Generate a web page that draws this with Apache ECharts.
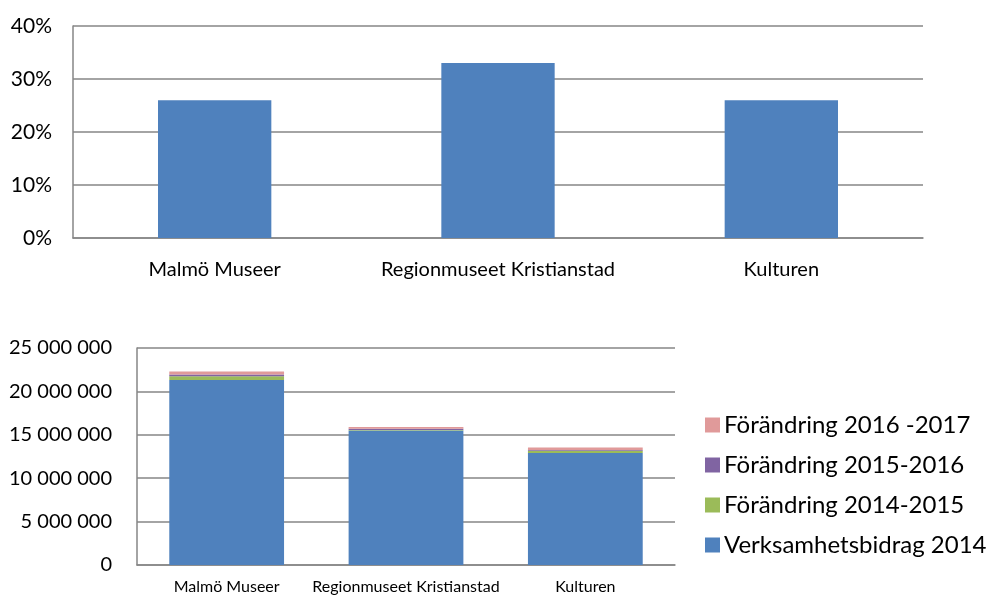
<!DOCTYPE html>
<html>
<head>
<meta charset="utf-8">
<script src="https://cdn.jsdelivr.net/npm/echarts@6/dist/echarts.min.js"></script>
<style>
html, body { margin: 0; padding: 0; background: #fff; }
#main { width: 995px; height: 598px; }
</style>
</head>
<body>
<div id="main"></div>
<script>
// data
var museer = ['Malmö Museer', 'Regionmuseet Kristianstad', 'Kulturen'];
var andel = [26, 33, 26];   // procent
var andelTicks = [0, 10, 20, 30, 40];

var serieNamn = ['Verksamhetsbidrag 2014', 'Förändring 2014-2015', 'Förändring 2015-2016', 'Förändring 2016 -2017'];
var bidrag2014 = [21300000, 15500000, 12900000];
var forandring1415 = [450000, 50000, 250000];
var forandring1516 = [200000, 150000, 100000];
var forandring1617 = [350000, 200000, 300000];
var serieFarg = ['#4f81bd', '#9bbb59', '#8064a2', '#e09a9a'];

var font = 'Lato, "Open Sans", sans-serif';
var gray = '#868686';

function mellanslag(v) {
	return String(v).replace(/\B(?=(\d{3})+(?!\d))/g, ' ');
}

var myChart = echarts.init(document.getElementById('main'));

var stackData = [bidrag2014, forandring1415, forandring1516, forandring1617];
var series = [
	{
		name: 'andel',
		type: 'bar',
		xAxisIndex: 0,
		yAxisIndex: 0,
		barWidth: '40%',
		itemStyle: { color: '#4f81bd' },
		data: andel
	}
];
for (var i = 0; i < serieNamn.length; i++) {
	series.push({
		name: serieNamn[i],
		type: 'bar',
		stack: 'total',
		xAxisIndex: 1,
		yAxisIndex: 1,
		barWidth: '64%',
		itemStyle: { color: serieFarg[i] },
		data: stackData[i]
	});
}

var option = {
	animation: false,
	backgroundColor: '#fff',
	textStyle: { fontFamily: font, color: '#000' },
	grid: [
		{ left: 73, top: 26, width: 850, height: 212 },
		{ left: 137, top: 348, width: 538, height: 217 }
	],
	legend: {
		orient: 'vertical',
		left: 700,
		top: 408,
		itemGap: 16,
		itemWidth: 15,
		itemHeight: 15,
		icon: 'rect',
		data: [serieNamn[3], serieNamn[2], serieNamn[1], serieNamn[0]],
		textStyle: { fontFamily: font, fontSize: 24, color: '#000', padding: [0, 0, 0, -1] }
	},
	xAxis: [
		{
			gridIndex: 0,
			type: 'category',
			data: museer,
			axisLine: { lineStyle: { color: gray, width: 1.5 } },
			axisTick: { show: false },
			axisLabel: { fontSize: 20, color: '#000', margin: 22, interval: 0 }
		},
		{
			gridIndex: 1,
			type: 'category',
			data: museer,
			axisLine: { lineStyle: { color: gray, width: 1.5 } },
			axisTick: { show: false },
			axisLabel: { fontSize: 16, color: '#000', margin: 14, interval: 0 }
		}
	],
	yAxis: [
		{
			gridIndex: 0,
			type: 'value',
			min: andelTicks[0],
			max: andelTicks[andelTicks.length - 1],
			interval: 10,
			axisLine: { show: true, lineStyle: { color: gray, width: 1.5 } },
			axisTick: { show: false },
			splitLine: { lineStyle: { color: gray, width: 1.5 } },
			axisLabel: { fontSize: 21, color: '#000', margin: 21, formatter: '{value}%' }
		},
		{
			gridIndex: 1,
			type: 'value',
			min: 0,
			max: 25000000,
			interval: 5000000,
			axisLine: { show: true, lineStyle: { color: gray, width: 1.5 } },
			axisTick: { show: false },
			splitLine: { lineStyle: { color: gray, width: 1.5 } },
			axisLabel: { fontSize: 20, color: '#000', margin: 25, formatter: mellanslag }
		}
	],
	series: series
};

myChart.setOption(option);
</script>
</body>
</html>
